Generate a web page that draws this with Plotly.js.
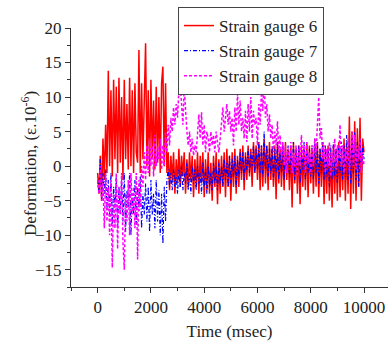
<!DOCTYPE html>
<html>
<head>
<meta charset="utf-8">
<script src="https://cdn.plot.ly/plotly-3.0.1.min.js"></script>
<style>html,body{margin:0;padding:0;background:#fff;}#chart{width:388px;height:345px;}</style>
</head>
<body>
<div id="chart"></div>
<script>
// Sampling interval of the recorded series (msec)
const sampleStep = 50;

const seriesNames = ['Strain gauge 6', 'Strain gauge 7', 'Strain gauge 8'];
const xTitle = 'Time (msec)';
const yTitle = 'Deformation, (ε.10<sup>-6</sup>)';

// Strain gauge 6 (one value per 50 ms, 0..10000)
const gauge6 = [
  -1,-4,1.5,-5,4,-2,6,-1,13.8,0,
  11,-1.5,12.5,1,11.5,-1,12.8,0.5,10,-2,
  12.5,1,9,-0.5,12.8,0,11,-1,12,2,
  0.5,16.8,-1,12,1,10,17.8,0,11,-1.5,
  12.5,1,9.5,-0.5,11.5,0.5,10,-1,12,14.4,
  0,12,-1,2,-3.5,1.5,-2,2,-4,1,
  -2.5,2.5,-3,1.5,-1.5,2,-4,1,-3,2,
  -2,1.5,-4.5,1,-3,2,-4,1.5,-2.5,2,
  -4.5,1,-3.5,2,-4,0.5,-5,1.5,-3,2,
  -5.5,1,-4,1.5,-3,2,-4.5,2.5,-3,1.5,
  -5,2,-3,2.5,-4,1.5,-3,2.5,-2,3,
  -3.5,2,-2,3,-1.5,2.5,-3,3.5,-1,3,
  -2,3.5,-3.5,3,-3,4,-2.5,3,-3.5,3.5,
  -2,2.5,-3,3,-4.8,3.5,-2.5,2.5,-3,3,
  -3.5,3.5,-2,2.5,-3.5,3,-6,3.5,-2.5,2.5,
  -4,3,-5.5,3,-3,2.5,-3.5,3.5,-4.5,3,
  -2.5,2.5,-4,3,-3,3.5,-4.5,2.5,-3,3.5,
  -5.5,2.5,-4,3,-5,2,-6,3,-4,2.5,
  -5,3.5,-4.5,2,-3.5,4,-5,3,-4,7.2,
  -6.2,5,-4,6.5,-5,5.5,-3,7,-5,4,
  2
];

// Strain gauge 7
const gauge7 = [
  -2,-4,1,-5,-1,-4,-0.5,-6,-2,-7,
  -1,-8.5,-3,-6,-1.5,-9,-3,-7,-2,-8,
  -1,-9.5,-3.5,-6,-1,-10,-4,-7,-2,-8.5,
  -3,-6.5,-1.5,-9,-4,-7,-2.5,-8,-3,-9.5,
  -2,-7,-4,-9,-2,-8,-3.5,-10,-4,-11.2,
  -3,-8,-2,-0.5,-3,-1,-3.5,-0.5,-3,-1.5,
  -4,-0.5,-3,0,-3.5,-1,-2.5,0.5,-3.5,-1,
  -4,0,-2.5,-0.5,-3.5,0,-2.5,-1,-4,0.5,
  -3,-0.5,-4,0,-3,-1,-3.5,0.5,-2.5,0,
  -3.5,0.5,-2.5,0,-3,1,-2,0.5,-3,1.5,
  -2.5,1,-1.5,1.5,-3,1,-1.5,2,-1,2,
  -2,1.5,-0.5,2.5,-1,2,0,3,-1,2.5,
  -0.5,3.5,-1,3,-1.5,5,-0.5,3,-1.5,2.5,
  -1,3,-2,2.5,-1,3.5,-2,2,-1,3,
  -2,2.5,-0.5,3,-1.5,2,-1,3.5,-2,2.5,
  -1,3,-2.5,2,-0.5,3.5,-2,3,-1,2.5,
  -1.5,3,-2,4,-1,3,-2.5,2.5,-1,3.5,
  -2,3,-1.5,2.5,-3,3,-2,3.5,-1.5,2.5,
  -2.5,3,-1,3.5,-2,3,-1.5,4.5,-2,3,
  -2.5,4,-1,5,-2,3.5,-3,4,-1,3,
  1
];

// Strain gauge 8
const gauge8 = [
  -2,-4,0,-5,-2,-9,-1,-8,-3,-10,
  -2,-14.7,-4,-9,-1,-12,-3,-7,-1,-11,
  -15,-4,-8,-2,-10,-1,-7,-3,-9,-1,
  -13.5,-2,-6,0,-3,2,-2,3,-1,4,
  0,3,-1.5,4.5,0,3,1,4,-0.5,3,
  0,5,2,6,3,7,5,8.5,6,9,
  7,11,12,8,6,11.5,7,5,3,5,
  2,4,1.5,3,2,5,7.5,4,7.8,3,
  6,2,5,4,2,5,3,4.5,2,5,
  3,2,4,6,8.5,5,7.5,9,6,8,
  5,7,3,8.5,5,10.5,6,9.5,5,7,
  4,8,3.5,9,5,10,4,8,6,7,
  3,9,6,11,8,12.5,7,9,5,7.5,
  4,6,2,5,3,6.5,2,4.5,1,3.5,
  0,3,-1,2.5,0.5,3.5,-1,2,0,3,
  -1.5,2.5,0,4.5,1,3,-1,3.5,0.5,2,
  -1,3,0,4,2,6,10,4,5.5,1,
  3,-1,2.5,0,3.5,-1.5,2,0,4,-0.5,
  3,1,6,0,3,-1,2.5,0.5,4,-1,
  3,5,0,4.5,-0.5,3,1,4,-1,2,
  0
];

const time = gauge6.map((_, i) => i * sampleStep);

const traces = [
  {x: time, y: gauge6, name: seriesNames[0], type: 'scatter', mode: 'lines',
   line: {color: '#ff0000', width: 1.5}},
  {x: time, y: gauge7, name: seriesNames[1], type: 'scatter', mode: 'lines',
   line: {color: '#0000ff', width: 1.2, dash: '4px,2px,1px,2px'}},
  {x: time, y: gauge8, name: seriesNames[2], type: 'scatter', mode: 'lines',
   line: {color: '#ff00ff', width: 1.5, dash: '3px,2px'}}
];

const FONT = 'Liberation Serif, Times New Roman, serif';

const axisCommon = {
  showline: true, linecolor: '#333', linewidth: 1,
  showgrid: false, zeroline: false,
  ticks: 'outside', ticklen: 5, tickwidth: 1, tickcolor: '#333',
  tickfont: {family: FONT, size: 17, color: '#222'}
};

const layout = {
  width: 388, height: 345,
  margin: {l: 71, r: 0, t: 28, b: 58},
  paper_bgcolor: '#fff', plot_bgcolor: '#fff',
  font: {family: FONT, size: 17, color: '#222'},
  showlegend: true,
  legend: {
    x: 0.3375, y: 1.081, xanchor: 'left', yanchor: 'top',
    bgcolor: '#fff', bordercolor: '#444', borderwidth: 1,
    font: {family: FONT, size: 17, color: '#222'}
  },
  xaxis: Object.assign({}, axisCommon, {
    range: [-1000, 10900], tick0: 0, dtick: 2000, tickformat: 'd',
    minor: {dtick: 1000, tick0: 0, ticks: 'outside', ticklen: 3, tickcolor: '#333'},
    title: {text: xTitle, font: {family: FONT, size: 17, color: '#222'}, standoff: 8}
  }),
  yaxis: Object.assign({}, axisCommon, {
    range: [-17.5, 20], tick0: 0, dtick: 5,
    minor: {dtick: 2.5, tick0: 0, ticks: 'outside', ticklen: 3, tickcolor: '#333'}
  }),
  annotations: [{
    text: yTitle, xref: 'paper', yref: 'paper',
    x: -0.1325, y: 0.479, xanchor: 'center', yanchor: 'middle',
    textangle: -90, showarrow: false,
    font: {family: FONT, size: 17, color: '#222'}
  }]
};

Plotly.newPlot('chart', traces, layout, {displayModeBar: false, staticPlot: true});
</script>
</body>
</html>
